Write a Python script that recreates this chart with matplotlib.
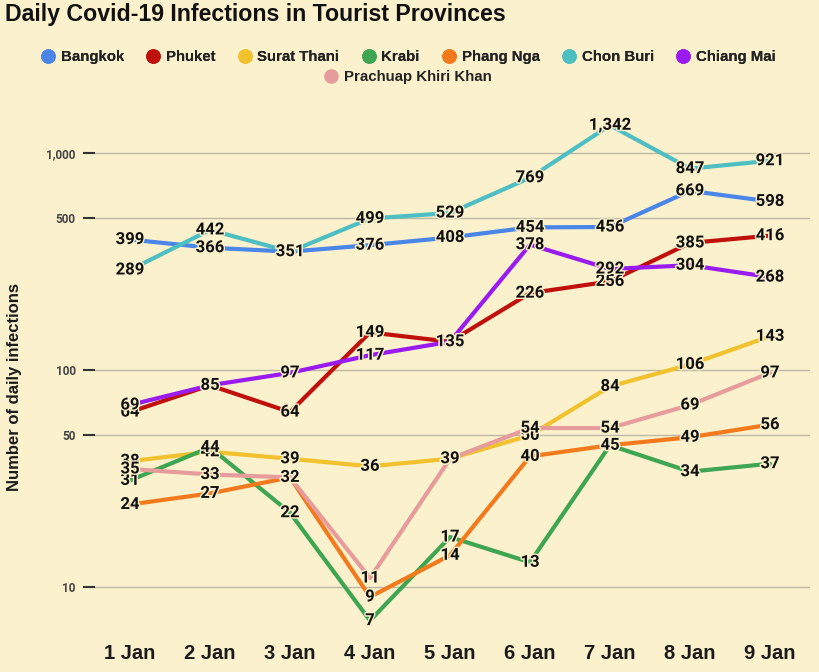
import matplotlib
matplotlib.use("Agg")
import matplotlib.pyplot as plt
import matplotlib.patheffects as pe
from matplotlib.ticker import FixedLocator, FixedFormatter, NullLocator

dates = ["1 Jan", "2 Jan", "3 Jan", "4 Jan", "5 Jan", "6 Jan", "7 Jan", "8 Jan", "9 Jan"]
bangkok = [399, 366, 351, 376, 408, 454, 456, 669, 598]
phuket = [64, 85, 64, 149, 135, 226, 256, 385, 416]
surat_thani = [38, 42, 39, 36, 39, 50, 84, 106, 143]
krabi = [31, 44, 22, 7, 17, 13, 45, 34, 37]
phang_nga = [24, 27, 32, 9, 14, 40, 45, 49, 56]
chon_buri = [289, 442, 351, 499, 529, 769, 1342, 847, 921]
chiang_mai = [69, 85, 97, 117, 135, 378, 292, 304, 268]
prachuap = [35, 33, 32, 11, 39, 54, 54, 69, 97]

series_names = ["Bangkok", "Phuket", "Surat Thani", "Krabi", "Phang Nga",
                "Chon Buri", "Chiang Mai", "Prachuap Khiri Khan"]
series_values = [bangkok, phuket, surat_thani, krabi, phang_nga,
                 chon_buri, chiang_mai, prachuap]
colors = ["#4A86E8", "#C0100C", "#F2C12E", "#3EA552", "#F27A1C",
          "#4DBFC3", "#9A1BF0", "#E69C9A"]

y_ticks = [10, 50, 100, 500, 1000]
y_tick_labels = ["10", "50", "100", "500", "1,000"]

BG = "#FCF1CD"
SANS = ["Liberation Sans", "DejaVu Sans"]

fig = plt.figure(figsize=(8.2, 6.72), dpi=100, facecolor=BG)
ax = fig.add_axes([95/820, 32/672, 715/820, 545/672])
ax.set_facecolor(BG)

x = list(range(len(dates)))
for name, vals, c in zip(series_names, series_values, colors):
    ax.plot(x, vals, color=c, lw=3, solid_capstyle="round",
            solid_joinstyle="round", label=name, zorder=3)

for vals in series_values:
    for xi, v in zip(x, vals):
        ax.text(xi, v, f"{v:,}", ha="center", va="center", fontsize=12,
                fontweight="bold", family=["Roboto", "DejaVu Sans"], color="#111111",
                zorder=5,
                path_effects=[pe.withStroke(linewidth=2, foreground=BG)])

ax.set_yscale("log")
ax.set_ylim(5.70, 1850)
ax.set_xlim(-0.4375, 8.5)
ax.yaxis.set_major_locator(FixedLocator(y_ticks))
ax.yaxis.set_major_formatter(FixedFormatter(y_tick_labels))
ax.yaxis.set_minor_locator(NullLocator())
ax.set_xticks(x)
ax.set_xticklabels(dates)
ax.tick_params(axis="x", length=0, pad=3, labelsize=14.5)
ax.tick_params(axis="y", length=9, width=1.5, color="#333333", pad=5,
               labelsize=8.5, labelcolor="#444444")
for lab in ax.get_xticklabels():
    lab.set_fontweight("bold")
    lab.set_family(SANS)
    lab.set_color("#1a1a1a")
for lab in ax.get_yticklabels():
    lab.set_fontweight("bold")
    lab.set_family(["Roboto", "DejaVu Sans"])
ax.grid(axis="y", color="#BDB7A6", lw=1)
ax.set_axisbelow(True)
for s in ax.spines.values():
    s.set_visible(False)

fig.text(15/820, 1 - 387/672, "Number of daily infections", rotation=90,
         ha="center", va="center", fontsize=12, fontweight="bold",
         family=SANS, color="#1a1a1a")

fig.text(5/820, 1 - 14/672, "Daily Covid-19 Infections in Tourist Provinces",
         ha="left", va="center", fontsize=16.7, fontweight="bold",
         family=SANS, color="#111111")

def legend_handle(c):
    return plt.Line2D([], [], marker="o", ls="none", markersize=9.5,
                      markerfacecolor=c, markeredgecolor=c)

leg_font = {"family": SANS, "weight": "bold", "size": 10.8}
leg1 = fig.legend([legend_handle(c) for c in colors[:7]], series_names[:7],
                  loc="center", bbox_to_anchor=(408/820, 1 - 57/672), ncol=7,
                  frameon=False, prop=leg_font, handletextpad=0.35,
                  columnspacing=1.45, handlelength=1.0, borderpad=0)
for t in leg1.get_texts():
    t.set_color("#222222")
leg2 = fig.legend([legend_handle(colors[7])], series_names[7:],
                  loc="center", bbox_to_anchor=(408/820, 1 - 77/672), ncol=1,
                  frameon=False, prop=leg_font, handletextpad=0.35,
                  handlelength=1.0, borderpad=0)
for t in leg2.get_texts():
    t.set_color("#222222")
fig.add_artist(leg1)

fig.savefig("out.png", dpi=100, facecolor=BG)
